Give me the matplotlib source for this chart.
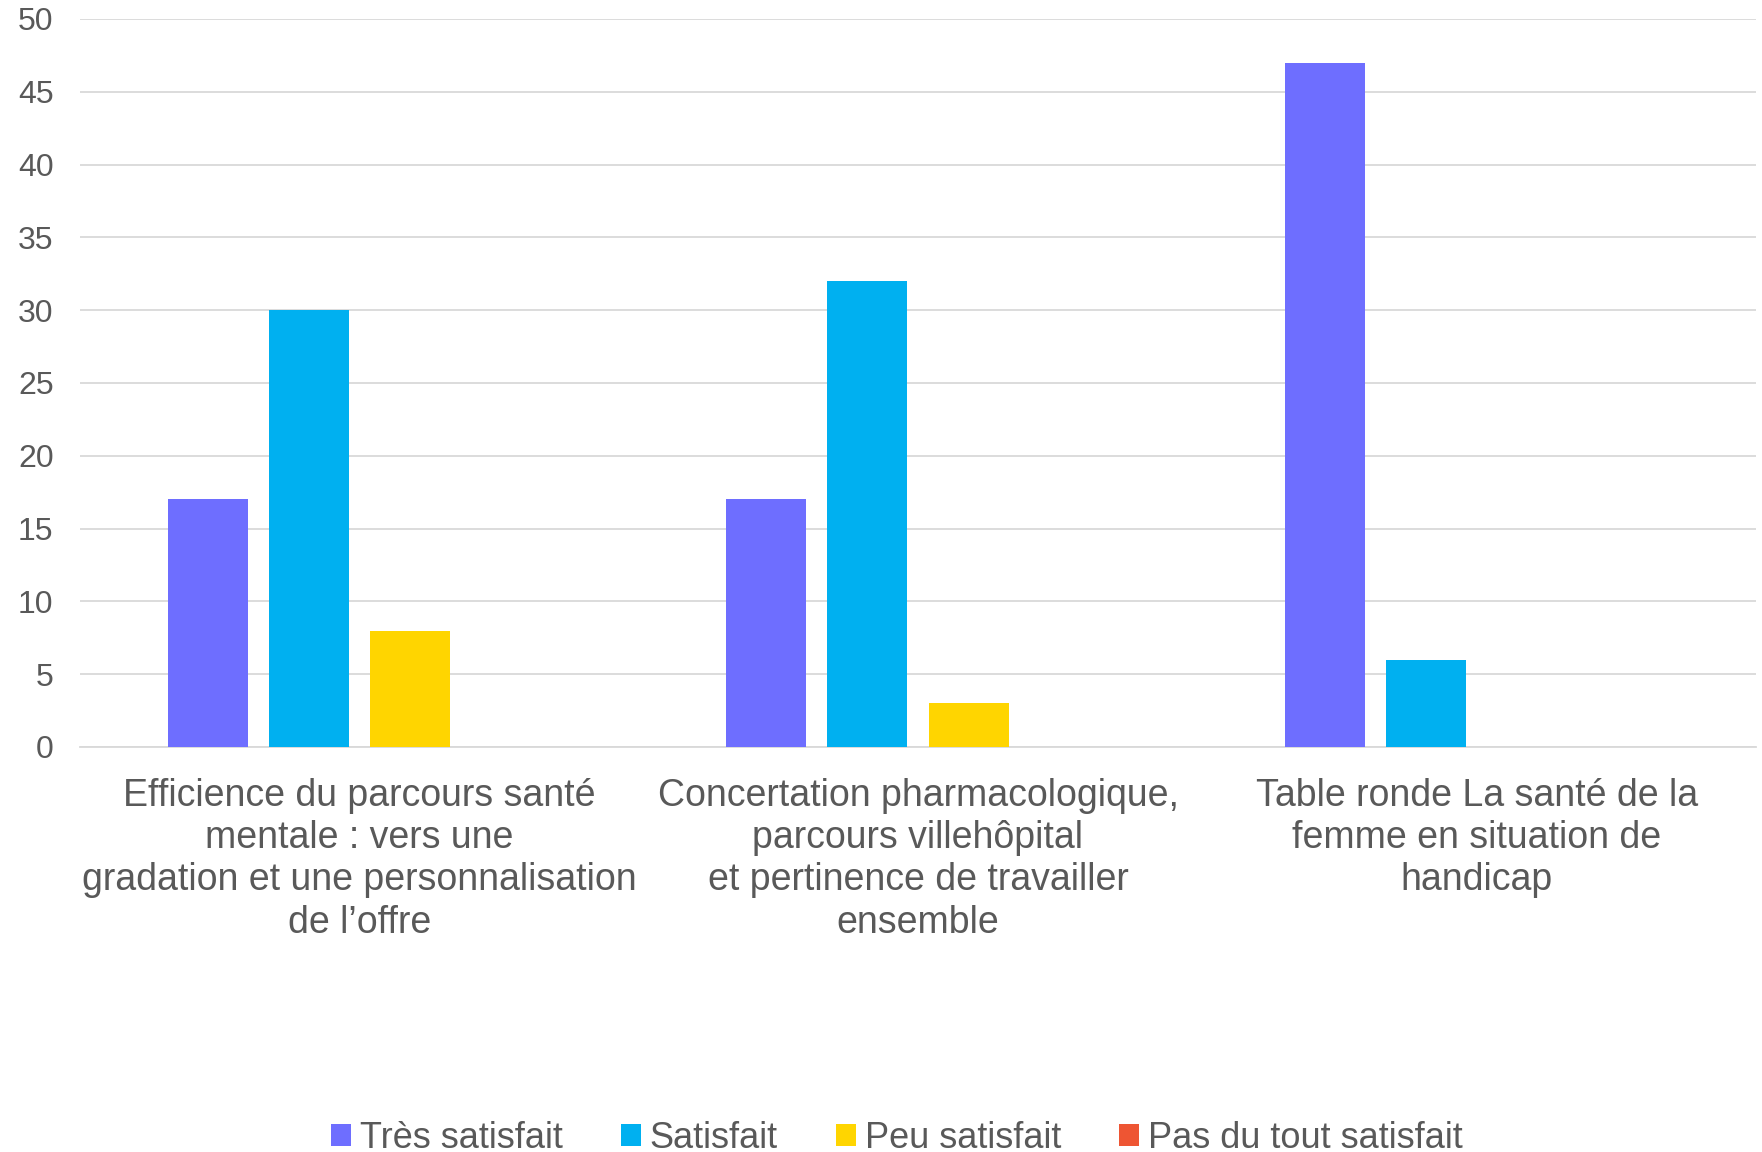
import numpy as np
import matplotlib.pyplot as plt

plt.rcParams['font.family'] = ['Liberation Sans', 'DejaVu Sans']

categories = [
    "Efficience du parcours santé\nmentale : vers une\ngradation et une personnalisation\nde l’offre",
    "Concertation pharmacologique,\nparcours villehôpital\net pertinence de travailler\nensemble",
    "Table ronde La santé de la\nfemme en situation de\nhandicap",
]
series = ["Très satisfait", "Satisfait", "Peu satisfait", "Pas du tout satisfait"]
tres_satisfait = [17, 17, 47]
satisfait = [30, 32, 6]
peu_satisfait = [8, 3, 0]
pas_du_tout = [0, 0, 0]
colors = ["#6E6EFF", "#00B0F0", "#FFD500", "#EE5533"]

text_color = "#595959"
grid_color = "#D9D9D9"

fig = plt.figure(figsize=(17.62, 11.52), dpi=100)
ax = fig.add_axes([80 / 1762, 1 - 747 / 1152, 1676 / 1762, 728 / 1152])

x = np.arange(len(categories))
step = 0.181
width = 0.143
valeurs = [tres_satisfait, satisfait, peu_satisfait, pas_du_tout]
for i, (nom, vals, c) in enumerate(zip(series, valeurs, colors)):
    ax.bar(x + (i - 1.5) * step, vals, width, color=c, label=nom, zorder=3)

ax.set_xlim(-0.5, 2.5)
ax.set_ylim(0, 50)
ax.set_yticks(range(0, 51, 5))
ax.set_xticks(x)
ax.set_xticklabels(categories, fontsize=27, color=text_color, linespacing=1.23)
ax.tick_params(axis='x', length=0, pad=22)
ax.tick_params(axis='y', length=0, pad=19, labelsize=23, labelcolor=text_color)
ax.grid(axis='y', color=grid_color, linewidth=1.3, zorder=0)
for s in ['top', 'right', 'left']:
    ax.spines[s].set_visible(False)
ax.spines['bottom'].set_color(grid_color)
ax.spines['bottom'].set_linewidth(1.3)

handles, labels = ax.get_legend_handles_labels()
fig.legend(handles, labels, loc='center', bbox_to_anchor=(0.509, 1 - 1138 / 1152),
           ncol=4, frameon=False, fontsize=26, labelcolor=text_color,
           handlelength=0.55, handleheight=0.55, handletextpad=0.25, columnspacing=1.6)

fig.savefig("out.png", dpi=100)
